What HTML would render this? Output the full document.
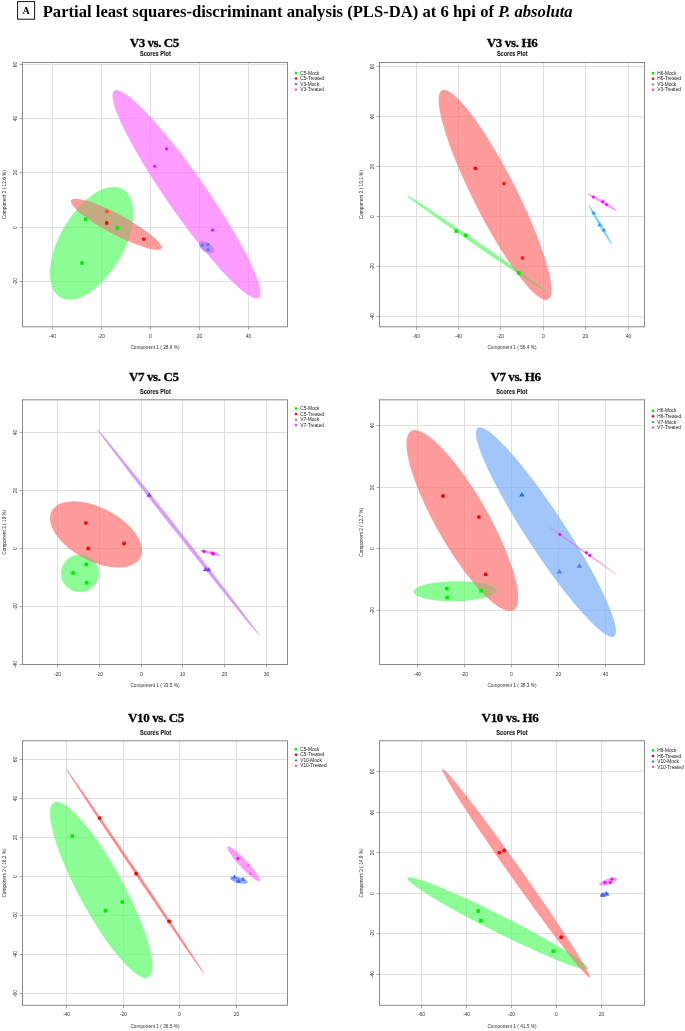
<!DOCTYPE html>
<html><head><meta charset="utf-8"><style>
html,body{margin:0;padding:0;background:#fff;}
body{width:685px;height:1031px;overflow:hidden;position:relative;}
svg{position:absolute;left:0;top:0;will-change:transform;}
.gv{stroke:#dfdfdf;stroke-width:1;}
.gh{stroke:#dfdfdf;stroke-width:1;}
.box{fill:none;stroke:#8a8a8a;stroke-width:1;}
.tk{stroke:#8a8a8a;stroke-width:0.8;}
.tl{font-family:"Liberation Sans",sans-serif;font-size:5px;fill:#333;text-anchor:middle;}
.al{font-family:"Liberation Sans",sans-serif;font-size:4.75px;fill:#333;text-anchor:middle;}
.lg{font-family:"Liberation Sans",sans-serif;font-size:4.8px;fill:#1a1a1a;}
.pt{font-family:"Liberation Serif",serif;font-weight:bold;font-size:13px;fill:#000;stroke:#000;stroke-width:0.3px;}
.st{font-family:"Liberation Sans",sans-serif;font-weight:bold;font-size:6.7px;fill:#222;stroke:#222;stroke-width:0.12px;}
.hd{font-family:"Liberation Serif",serif;font-weight:bold;font-size:16.2px;fill:#000;}
</style></head><body>
<svg width="685" height="1031" viewBox="0 0 685 1031">
<defs><clipPath id="c_g1"><ellipse cx="91.65" cy="243.35" rx="62.4" ry="32" transform="rotate(-60 91.65 243.35)"/></clipPath><clipPath id="c_r2"><ellipse cx="495" cy="194.95" rx="117.31" ry="21.6" transform="rotate(63.14 495 194.95)"/></clipPath><clipPath id="c_r3"><ellipse cx="96" cy="534.4" rx="50.1" ry="26.7" transform="rotate(27.8 96 534.4)"/></clipPath><clipPath id="c_r4"><ellipse cx="462.3" cy="520.6" rx="103.1" ry="26" transform="rotate(60.3 462.3 520.6)"/></clipPath><clipPath id="c_g6"><ellipse cx="497.8" cy="923.35" rx="101.27" ry="8.6" transform="rotate(26.67 497.8 923.35)"/></clipPath></defs>
<rect x="17.6" y="1.6" width="17" height="17.6" fill="none" stroke="#111" stroke-width="1"/>
<text x="26.1" y="14" style="font-family:'Liberation Serif',serif;font-weight:bold;font-size:10px;text-anchor:middle">A</text>
<text x="42.7" y="16.8" class="hd" textLength="530" lengthAdjust="spacingAndGlyphs">Partial least squares-discriminant analysis (PLS-DA) at 6 hpi of <tspan font-style="italic">P. absoluta</tspan></text>
<line x1="52.5" y1="62.5" x2="52.5" y2="326.8" class="gv"/>
<line x1="101.5" y1="62.5" x2="101.5" y2="326.8" class="gv"/>
<line x1="150.5" y1="62.5" x2="150.5" y2="326.8" class="gv"/>
<line x1="199.5" y1="62.5" x2="199.5" y2="326.8" class="gv"/>
<line x1="248.5" y1="62.5" x2="248.5" y2="326.8" class="gv"/>
<line x1="22.5" y1="64.5" x2="287.5" y2="64.5" class="gh"/>
<line x1="22.5" y1="118.5" x2="287.5" y2="118.5" class="gh"/>
<line x1="22.5" y1="172.5" x2="287.5" y2="172.5" class="gh"/>
<line x1="22.5" y1="227.5" x2="287.5" y2="227.5" class="gh"/>
<line x1="22.5" y1="281.5" x2="287.5" y2="281.5" class="gh"/>
<ellipse cx="91.65" cy="243.35" rx="62.4" ry="32" transform="rotate(-60 91.65 243.35)" fill="rgba(91,252,102,0.7)"/>
<ellipse cx="186.5" cy="194.3" rx="126.3" ry="19.6" transform="rotate(55.1 186.5 194.3)" fill="rgba(255,114,255,0.7)"/>
<ellipse cx="116.25" cy="224.3" rx="51.18" ry="9.9" transform="rotate(28.09 116.25 224.3)" fill="rgba(255,114,112,0.7)"/>
<ellipse cx="206.5" cy="247.3" rx="8.6" ry="4.6" transform="rotate(35 206.5 247.3)" fill="rgba(198,127,247,0.9)"/>
<g clip-path="url(#c_g1)"><ellipse cx="116.25" cy="224.3" rx="51.18" ry="9.9" transform="rotate(28.09 116.25 224.3)" fill="#c4aa82"/></g>
<rect x="83.9" y="217.5" width="3.6" height="3.6" fill="#00ee00"/>
<rect x="115.5" y="226.1" width="3.6" height="3.6" fill="#00ee00"/>
<rect x="80.2" y="261.2" width="3.6" height="3.6" fill="#00ee00"/>
<circle cx="106.7" cy="223" r="1.9" fill="#ff0000"/>
<circle cx="143.8" cy="239.1" r="1.9" fill="#ff0033"/>
<circle cx="106.9" cy="211.5" r="1.9" fill="#ff5511"/>
<path d="M166.6 147.1L168.5 149L166.6 150.9L164.7 149Z" fill="#ff00ff"/>
<path d="M154.6 164.4L156.5 166.3L154.6 168.2L152.7 166.3Z" fill="#ff00ff"/>
<path d="M212.4 228.3L214.3 230.2L212.4 232.1L210.5 230.2Z" fill="#ff00ff"/>
<path d="M202.3 242.84L204.5 246.44L200.1 246.44Z" fill="#4078ff"/>
<path d="M207.8 242.14L210 245.74L205.6 245.74Z" fill="#4078ff"/>
<path d="M208.1 247.24L210.3 250.84L205.9 250.84Z" fill="#4078ff"/>
<rect x="22.5" y="62.5" width="265" height="264.3" class="box"/>
<line x1="52.5" y1="326.8" x2="52.5" y2="329.6" class="tk"/>
<text x="52.5" y="337.8" class="tl">-40</text>
<line x1="101.5" y1="326.8" x2="101.5" y2="329.6" class="tk"/>
<text x="101.5" y="337.8" class="tl">-20</text>
<line x1="150.5" y1="326.8" x2="150.5" y2="329.6" class="tk"/>
<text x="150.5" y="337.8" class="tl">0</text>
<line x1="199.5" y1="326.8" x2="199.5" y2="329.6" class="tk"/>
<text x="199.5" y="337.8" class="tl">20</text>
<line x1="248.5" y1="326.8" x2="248.5" y2="329.6" class="tk"/>
<text x="248.5" y="337.8" class="tl">40</text>
<line x1="22.5" y1="64.5" x2="19.7" y2="64.5" class="tk"/>
<text x="0" y="0" class="tl" transform="translate(16.8 64.5) rotate(-90)">60</text>
<line x1="22.5" y1="118.5" x2="19.7" y2="118.5" class="tk"/>
<text x="0" y="0" class="tl" transform="translate(16.8 118.5) rotate(-90)">40</text>
<line x1="22.5" y1="172.5" x2="19.7" y2="172.5" class="tk"/>
<text x="0" y="0" class="tl" transform="translate(16.8 172.5) rotate(-90)">20</text>
<line x1="22.5" y1="227.5" x2="19.7" y2="227.5" class="tk"/>
<text x="0" y="0" class="tl" transform="translate(16.8 227.5) rotate(-90)">0</text>
<line x1="22.5" y1="281.5" x2="19.7" y2="281.5" class="tk"/>
<text x="0" y="0" class="tl" transform="translate(16.8 281.5) rotate(-90)">-20</text>
<text x="155" y="349.2" class="al">Component 1 ( 38.6 %)</text>
<text x="0" y="0" class="al" transform="translate(6.1 194.65) rotate(-90)">Component 2 ( 12.6 %)</text>
<text x="129.7" y="46.6" class="pt" textLength="49.6" lengthAdjust="spacing">V3 vs. C5</text>
<text x="139.9" y="55.8" class="st" textLength="30.9" lengthAdjust="spacingAndGlyphs">Scores Plot</text>
<rect x="294.78" y="71.68" width="2.45" height="2.45" fill="#00ee00"/>
<text x="300.2" y="74.5" class="lg">C5-Mock</text>
<circle cx="296" cy="78.45" r="1.29" fill="#ff0000"/>
<text x="300.2" y="80.05" class="lg">C5-Treated</text>
<path d="M296 82.53L297.5 84.98L294.5 84.98Z" fill="#2255ff"/>
<text x="300.2" y="85.6" class="lg">V3-Mock</text>
<path d="M296 88.26L297.29 89.55L296 90.84L294.71 89.55Z" fill="#ff00ff"/>
<text x="300.2" y="91.15" class="lg">V3-Treated</text>
<line x1="416.5" y1="62.5" x2="416.5" y2="326.8" class="gv"/>
<line x1="458.5" y1="62.5" x2="458.5" y2="326.8" class="gv"/>
<line x1="500.5" y1="62.5" x2="500.5" y2="326.8" class="gv"/>
<line x1="543.5" y1="62.5" x2="543.5" y2="326.8" class="gv"/>
<line x1="585.5" y1="62.5" x2="585.5" y2="326.8" class="gv"/>
<line x1="628.5" y1="62.5" x2="628.5" y2="326.8" class="gv"/>
<line x1="379.5" y1="66.5" x2="644.5" y2="66.5" class="gh"/>
<line x1="379.5" y1="116.5" x2="644.5" y2="116.5" class="gh"/>
<line x1="379.5" y1="166.5" x2="644.5" y2="166.5" class="gh"/>
<line x1="379.5" y1="216.5" x2="644.5" y2="216.5" class="gh"/>
<line x1="379.5" y1="266.5" x2="644.5" y2="266.5" class="gh"/>
<line x1="379.5" y1="316.5" x2="644.5" y2="316.5" class="gh"/>
<ellipse cx="495" cy="194.95" rx="117.31" ry="21.6" transform="rotate(63.14 495 194.95)" fill="rgba(255,114,112,0.7)"/>
<ellipse cx="476.5" cy="243.5" rx="84.41" ry="2" transform="rotate(34.57 476.5 243.5)" fill="rgba(91,252,102,0.7)"/>
<ellipse cx="602.2" cy="201.9" rx="16.94" ry="1.5" transform="rotate(30.5 602.2 201.9)" fill="rgba(255,114,255,0.7)"/>
<ellipse cx="600.05" cy="224.45" rx="23.38" ry="1.5" transform="rotate(59.54 600.05 224.45)" fill="rgba(95,199,255,0.7)"/>
<g clip-path="url(#c_r2)"><ellipse cx="476.5" cy="243.5" rx="84.41" ry="2" transform="rotate(34.57 476.5 243.5)" fill="#c4aa82"/></g>
<circle cx="475.4" cy="168.3" r="1.9" fill="#ff0000"/>
<circle cx="504" cy="183.5" r="1.9" fill="#ff2020"/>
<circle cx="522.6" cy="258" r="1.9" fill="#ff2020"/>
<rect x="454.5" y="229.3" width="3.6" height="3.6" fill="#00ee00"/>
<rect x="464.1" y="233.5" width="3.6" height="3.6" fill="#00ee00"/>
<rect x="517.1" y="271.2" width="3.6" height="3.6" fill="#00ee00"/>
<path d="M593.5 195.3L595.4 197.2L593.5 199.1L591.6 197.2Z" fill="#ff00ff"/>
<path d="M602.7 199.8L604.6 201.7L602.7 203.6L600.8 201.7Z" fill="#ff00ff"/>
<path d="M606.5 202.8L608.4 204.7L606.5 206.6L604.6 204.7Z" fill="#ff00ff"/>
<path d="M593.5 210.54L595.7 214.14L591.3 214.14Z" fill="#1e9cff"/>
<path d="M599.6 222.64L601.8 226.24L597.4 226.24Z" fill="#1e9cff"/>
<path d="M603.7 227.84L605.9 231.44L601.5 231.44Z" fill="#1e9cff"/>
<rect x="379.5" y="62.5" width="265" height="264.3" class="box"/>
<line x1="416.5" y1="326.8" x2="416.5" y2="329.6" class="tk"/>
<text x="416.5" y="337.8" class="tl">-60</text>
<line x1="458.5" y1="326.8" x2="458.5" y2="329.6" class="tk"/>
<text x="458.5" y="337.8" class="tl">-40</text>
<line x1="500.5" y1="326.8" x2="500.5" y2="329.6" class="tk"/>
<text x="500.5" y="337.8" class="tl">-20</text>
<line x1="543.5" y1="326.8" x2="543.5" y2="329.6" class="tk"/>
<text x="543.5" y="337.8" class="tl">0</text>
<line x1="585.5" y1="326.8" x2="585.5" y2="329.6" class="tk"/>
<text x="585.5" y="337.8" class="tl">20</text>
<line x1="628.5" y1="326.8" x2="628.5" y2="329.6" class="tk"/>
<text x="628.5" y="337.8" class="tl">40</text>
<line x1="379.5" y1="66.5" x2="376.7" y2="66.5" class="tk"/>
<text x="0" y="0" class="tl" transform="translate(373.8 66.5) rotate(-90)">60</text>
<line x1="379.5" y1="116.5" x2="376.7" y2="116.5" class="tk"/>
<text x="0" y="0" class="tl" transform="translate(373.8 116.5) rotate(-90)">40</text>
<line x1="379.5" y1="166.5" x2="376.7" y2="166.5" class="tk"/>
<text x="0" y="0" class="tl" transform="translate(373.8 166.5) rotate(-90)">20</text>
<line x1="379.5" y1="216.5" x2="376.7" y2="216.5" class="tk"/>
<text x="0" y="0" class="tl" transform="translate(373.8 216.5) rotate(-90)">0</text>
<line x1="379.5" y1="266.5" x2="376.7" y2="266.5" class="tk"/>
<text x="0" y="0" class="tl" transform="translate(373.8 266.5) rotate(-90)">-20</text>
<line x1="379.5" y1="316.5" x2="376.7" y2="316.5" class="tk"/>
<text x="0" y="0" class="tl" transform="translate(373.8 316.5) rotate(-90)">-40</text>
<text x="512" y="349.2" class="al">Component 1 ( 56.4 %)</text>
<text x="0" y="0" class="al" transform="translate(363.1 194.65) rotate(-90)">Component 2 ( 10.1 %)</text>
<text x="486.7" y="46.7" class="pt" textLength="51" lengthAdjust="spacing">V3 vs. H6</text>
<text x="496.9" y="55.9" class="st" textLength="30.6" lengthAdjust="spacingAndGlyphs">Scores Plot</text>
<rect x="651.78" y="71.98" width="2.45" height="2.45" fill="#00ee00"/>
<text x="657.2" y="74.8" class="lg">H6-Mock</text>
<circle cx="653" cy="78.75" r="1.29" fill="#ff0000"/>
<text x="657.2" y="80.35" class="lg">H6-Treated</text>
<path d="M653 82.83L654.5 85.28L651.5 85.28Z" fill="#1e90ff"/>
<text x="657.2" y="85.9" class="lg">V3-Mock</text>
<path d="M653 88.56L654.29 89.85L653 91.14L651.71 89.85Z" fill="#ff00ff"/>
<text x="657.2" y="91.45" class="lg">V3-Treated</text>
<line x1="57.5" y1="399.8" x2="57.5" y2="664.5" class="gv"/>
<line x1="99.5" y1="399.8" x2="99.5" y2="664.5" class="gv"/>
<line x1="141.5" y1="399.8" x2="141.5" y2="664.5" class="gv"/>
<line x1="182.5" y1="399.8" x2="182.5" y2="664.5" class="gv"/>
<line x1="224.5" y1="399.8" x2="224.5" y2="664.5" class="gv"/>
<line x1="266.5" y1="399.8" x2="266.5" y2="664.5" class="gv"/>
<line x1="22.5" y1="432.5" x2="287.5" y2="432.5" class="gh"/>
<line x1="22.5" y1="490.5" x2="287.5" y2="490.5" class="gh"/>
<line x1="22.5" y1="548.5" x2="287.5" y2="548.5" class="gh"/>
<line x1="22.5" y1="606.5" x2="287.5" y2="606.5" class="gh"/>
<line x1="22.5" y1="664.5" x2="287.5" y2="664.5" class="gh"/>
<ellipse cx="96" cy="534.4" rx="50.1" ry="26.7" transform="rotate(27.8 96 534.4)" fill="rgba(255,114,112,0.7)"/>
<ellipse cx="79.9" cy="573.4" rx="19" ry="18.7" transform="rotate(0 79.9 573.4)" fill="rgba(91,252,102,0.7)"/>
<ellipse cx="178.05" cy="531.95" rx="131.74" ry="1.9" transform="rotate(51.81 178.05 531.95)" fill="rgba(194,119,248,0.7)"/>
<ellipse cx="210.45" cy="552.9" rx="10.87" ry="1.5" transform="rotate(13.84 210.45 552.9)" fill="rgba(255,114,255,0.7)"/>
<g clip-path="url(#c_r3)"><ellipse cx="79.9" cy="573.4" rx="19" ry="18.7" transform="rotate(0 79.9 573.4)" fill="#c4aa82"/></g>
<circle cx="85.9" cy="522.9" r="1.9" fill="#ff0000"/>
<circle cx="88.2" cy="548.5" r="1.9" fill="#ff0000"/>
<circle cx="124.1" cy="543.5" r="1.9" fill="#ff0000"/>
<rect x="84.5" y="562.6" width="3.6" height="3.6" fill="#00ee00"/>
<rect x="71.3" y="571.2" width="3.6" height="3.6" fill="#00ee00"/>
<rect x="84.9" y="581" width="3.6" height="3.6" fill="#00ee00"/>
<path d="M149.1 492.2L151.85 496.7L146.35 496.7Z" fill="#8a40f0"/>
<path d="M205.6 566.71L208.24 571.03L202.96 571.03Z" fill="#8a40f0"/>
<path d="M208.6 567.01L211.24 571.33L205.96 571.33Z" fill="#8a40f0"/>
<path d="M203.9 549.31L205.99 551.4L203.9 553.49L201.81 551.4Z" fill="#ff00ff"/>
<path d="M212.4 551.01L214.49 553.1L212.4 555.19L210.31 553.1Z" fill="#ff00ff"/>
<path d="M213.1 551.71L215.19 553.8L213.1 555.89L211.01 553.8Z" fill="#ff00ff"/>
<rect x="22.5" y="399.8" width="265" height="264.7" class="box"/>
<line x1="57.5" y1="664.5" x2="57.5" y2="667.3" class="tk"/>
<text x="57.5" y="675.5" class="tl">-20</text>
<line x1="99.5" y1="664.5" x2="99.5" y2="667.3" class="tk"/>
<text x="99.5" y="675.5" class="tl">-10</text>
<line x1="141.5" y1="664.5" x2="141.5" y2="667.3" class="tk"/>
<text x="141.5" y="675.5" class="tl">0</text>
<line x1="182.5" y1="664.5" x2="182.5" y2="667.3" class="tk"/>
<text x="182.5" y="675.5" class="tl">10</text>
<line x1="224.5" y1="664.5" x2="224.5" y2="667.3" class="tk"/>
<text x="224.5" y="675.5" class="tl">20</text>
<line x1="266.5" y1="664.5" x2="266.5" y2="667.3" class="tk"/>
<text x="266.5" y="675.5" class="tl">30</text>
<line x1="22.5" y1="432.5" x2="19.7" y2="432.5" class="tk"/>
<text x="0" y="0" class="tl" transform="translate(16.8 432.5) rotate(-90)">40</text>
<line x1="22.5" y1="490.5" x2="19.7" y2="490.5" class="tk"/>
<text x="0" y="0" class="tl" transform="translate(16.8 490.5) rotate(-90)">20</text>
<line x1="22.5" y1="548.5" x2="19.7" y2="548.5" class="tk"/>
<text x="0" y="0" class="tl" transform="translate(16.8 548.5) rotate(-90)">0</text>
<line x1="22.5" y1="606.5" x2="19.7" y2="606.5" class="tk"/>
<text x="0" y="0" class="tl" transform="translate(16.8 606.5) rotate(-90)">-20</text>
<line x1="22.5" y1="664.5" x2="19.7" y2="664.5" class="tk"/>
<text x="0" y="0" class="tl" transform="translate(16.8 664.5) rotate(-90)">-40</text>
<text x="155" y="686.9" class="al">Component 1 ( 33.5 %)</text>
<text x="0" y="0" class="al" transform="translate(6.1 532.15) rotate(-90)">Component 2 ( 19 %)</text>
<text x="129.05" y="380.5" class="pt" textLength="49.95" lengthAdjust="spacing">V7 vs. C5</text>
<text x="140" y="393.6" class="st" textLength="30.8" lengthAdjust="spacingAndGlyphs">Scores Plot</text>
<rect x="294.78" y="407.28" width="2.45" height="2.45" fill="#00ee00"/>
<text x="300.2" y="410.1" class="lg">C5-Mock</text>
<circle cx="296" cy="414.05" r="1.29" fill="#ff0000"/>
<text x="300.2" y="415.65" class="lg">C5-Treated</text>
<path d="M296 418.13L297.5 420.58L294.5 420.58Z" fill="#9030f0"/>
<text x="300.2" y="421.2" class="lg">V7-Mock</text>
<path d="M296 423.86L297.29 425.15L296 426.44L294.71 425.15Z" fill="#ff00ff"/>
<text x="300.2" y="426.75" class="lg">V7-Treated</text>
<line x1="417.5" y1="399.8" x2="417.5" y2="664.5" class="gv"/>
<line x1="464.5" y1="399.8" x2="464.5" y2="664.5" class="gv"/>
<line x1="511.5" y1="399.8" x2="511.5" y2="664.5" class="gv"/>
<line x1="558.5" y1="399.8" x2="558.5" y2="664.5" class="gv"/>
<line x1="605.5" y1="399.8" x2="605.5" y2="664.5" class="gv"/>
<line x1="379.5" y1="425.5" x2="644.5" y2="425.5" class="gh"/>
<line x1="379.5" y1="487.5" x2="644.5" y2="487.5" class="gh"/>
<line x1="379.5" y1="548.5" x2="644.5" y2="548.5" class="gh"/>
<line x1="379.5" y1="610.5" x2="644.5" y2="610.5" class="gh"/>
<ellipse cx="462.3" cy="520.6" rx="103.1" ry="26" transform="rotate(60.3 462.3 520.6)" fill="rgba(255,114,112,0.7)"/>
<ellipse cx="545.95" cy="532.05" rx="124.66" ry="19.3" transform="rotate(56.84 545.95 532.05)" fill="rgba(119,174,248,0.7)"/>
<ellipse cx="455" cy="591.2" rx="41.6" ry="10" transform="rotate(-0.8 455 591.2)" fill="rgba(91,252,102,0.7)"/>
<ellipse cx="581.9" cy="550.1" rx="42.56" ry="0.5" transform="rotate(35.15 581.9 550.1)" fill="rgba(238,96,238,0.9)"/>
<g clip-path="url(#c_r4)"><ellipse cx="455" cy="591.2" rx="41.6" ry="10" transform="rotate(-0.8 455 591.2)" fill="#c4aa82"/></g>
<circle cx="442.9" cy="496" r="1.9" fill="#ff0000"/>
<circle cx="478.9" cy="516.9" r="1.9" fill="#ff0000"/>
<circle cx="485.6" cy="574.3" r="1.9" fill="#ff0000"/>
<rect x="445" y="586.8" width="3.6" height="3.6" fill="#00ee00"/>
<rect x="445.4" y="595.6" width="3.6" height="3.6" fill="#00ee00"/>
<rect x="479.4" y="588.9" width="3.6" height="3.6" fill="#00ee00"/>
<path d="M521.9 492L524.65 496.5L519.15 496.5Z" fill="#1a70f0"/>
<path d="M559.5 569.1L562.25 573.6L556.75 573.6Z" fill="#5080f0"/>
<path d="M579.3 563.3L582.05 567.8L576.55 567.8Z" fill="#5080f0"/>
<path d="M559.9 532.6L561.8 534.5L559.9 536.4L558 534.5Z" fill="#ff00ff"/>
<path d="M586.3 550.8L588.2 552.7L586.3 554.6L584.4 552.7Z" fill="#ff00ff"/>
<path d="M589.8 553.6L591.7 555.5L589.8 557.4L587.9 555.5Z" fill="#ff00ff"/>
<rect x="379.5" y="399.8" width="265" height="264.7" class="box"/>
<line x1="417.5" y1="664.5" x2="417.5" y2="667.3" class="tk"/>
<text x="417.5" y="675.5" class="tl">-40</text>
<line x1="464.5" y1="664.5" x2="464.5" y2="667.3" class="tk"/>
<text x="464.5" y="675.5" class="tl">-20</text>
<line x1="511.5" y1="664.5" x2="511.5" y2="667.3" class="tk"/>
<text x="511.5" y="675.5" class="tl">0</text>
<line x1="558.5" y1="664.5" x2="558.5" y2="667.3" class="tk"/>
<text x="558.5" y="675.5" class="tl">20</text>
<line x1="605.5" y1="664.5" x2="605.5" y2="667.3" class="tk"/>
<text x="605.5" y="675.5" class="tl">40</text>
<line x1="379.5" y1="425.5" x2="376.7" y2="425.5" class="tk"/>
<text x="0" y="0" class="tl" transform="translate(373.8 425.5) rotate(-90)">40</text>
<line x1="379.5" y1="487.5" x2="376.7" y2="487.5" class="tk"/>
<text x="0" y="0" class="tl" transform="translate(373.8 487.5) rotate(-90)">20</text>
<line x1="379.5" y1="548.5" x2="376.7" y2="548.5" class="tk"/>
<text x="0" y="0" class="tl" transform="translate(373.8 548.5) rotate(-90)">0</text>
<line x1="379.5" y1="610.5" x2="376.7" y2="610.5" class="tk"/>
<text x="0" y="0" class="tl" transform="translate(373.8 610.5) rotate(-90)">-20</text>
<text x="512" y="686.9" class="al">Component 1 ( 38.3 %)</text>
<text x="0" y="0" class="al" transform="translate(363.1 532.15) rotate(-90)">Component 2 ( 12.7 %)</text>
<text x="490.4" y="380.5" class="pt" textLength="50.6" lengthAdjust="spacing">V7 vs. H6</text>
<text x="496.3" y="393.6" class="st" textLength="31.1" lengthAdjust="spacingAndGlyphs">Scores Plot</text>
<rect x="651.78" y="409.58" width="2.45" height="2.45" fill="#00ee00"/>
<text x="657.2" y="412.4" class="lg">H6-Mock</text>
<circle cx="653" cy="416.35" r="1.29" fill="#ff0000"/>
<text x="657.2" y="417.95" class="lg">H6-Treated</text>
<path d="M653 420.43L654.5 422.88L651.5 422.88Z" fill="#2a7af0"/>
<text x="657.2" y="423.5" class="lg">V7-Mock</text>
<path d="M653 426.16L654.29 427.45L653 428.74L651.71 427.45Z" fill="#ff00ff"/>
<text x="657.2" y="429.05" class="lg">V7-Treated</text>
<line x1="66.5" y1="740.8" x2="66.5" y2="1005.3" class="gv"/>
<line x1="123.5" y1="740.8" x2="123.5" y2="1005.3" class="gv"/>
<line x1="179.5" y1="740.8" x2="179.5" y2="1005.3" class="gv"/>
<line x1="236.5" y1="740.8" x2="236.5" y2="1005.3" class="gv"/>
<line x1="22.5" y1="759.5" x2="287.5" y2="759.5" class="gh"/>
<line x1="22.5" y1="798.5" x2="287.5" y2="798.5" class="gh"/>
<line x1="22.5" y1="837.5" x2="287.5" y2="837.5" class="gh"/>
<line x1="22.5" y1="876.5" x2="287.5" y2="876.5" class="gh"/>
<line x1="22.5" y1="915.5" x2="287.5" y2="915.5" class="gh"/>
<line x1="22.5" y1="954.5" x2="287.5" y2="954.5" class="gh"/>
<line x1="22.5" y1="993.5" x2="287.5" y2="993.5" class="gh"/>
<ellipse cx="101.3" cy="889.85" rx="99.5" ry="22.4" transform="rotate(61.57 101.3 889.85)" fill="rgba(91,252,102,0.7)"/>
<ellipse cx="135.15" cy="871.35" rx="123.99" ry="1.5" transform="rotate(56.05 135.15 871.35)" fill="rgba(255,91,91,0.7)"/>
<ellipse cx="243.7" cy="863.9" rx="23.42" ry="4" transform="rotate(46.9 243.7 863.9)" fill="rgba(255,114,255,0.7)"/>
<ellipse cx="238.75" cy="880.1" rx="9.24" ry="3" transform="rotate(14.41 238.75 880.1)" fill="rgba(108,131,255,0.7)"/>
<circle cx="99.6" cy="818.1" r="1.9" fill="#ff0000"/>
<circle cx="136.1" cy="873.7" r="1.9" fill="#ff0000"/>
<circle cx="169.1" cy="921.3" r="1.9" fill="#ff0000"/>
<rect x="70.5" y="834.2" width="3.6" height="3.6" fill="#00ee00"/>
<rect x="120.6" y="900.2" width="3.6" height="3.6" fill="#00ee00"/>
<rect x="103.7" y="908.9" width="3.6" height="3.6" fill="#00ee00"/>
<path d="M237.8 856.6L239.7 858.5L237.8 860.4L235.9 858.5Z" fill="#ff00ff"/>
<path d="M248.3 863.8L250.2 865.7L248.3 867.6L246.4 865.7Z" fill="#ff66ff"/>
<path d="M250.5 871.6L252.4 873.5L250.5 875.4L248.6 873.5Z" fill="#ff66ff"/>
<path d="M234.4 874.52L236.93 878.66L231.87 878.66Z" fill="#5070ff"/>
<path d="M238.5 878.52L241.03 882.66L235.97 882.66Z" fill="#3060ff"/>
<path d="M243 876.72L245.53 880.86L240.47 880.86Z" fill="#5070ff"/>
<rect x="22.5" y="740.8" width="265" height="264.5" class="box"/>
<line x1="66.5" y1="1005.3" x2="66.5" y2="1008.1" class="tk"/>
<text x="66.5" y="1016.3" class="tl">-40</text>
<line x1="123.5" y1="1005.3" x2="123.5" y2="1008.1" class="tk"/>
<text x="123.5" y="1016.3" class="tl">-20</text>
<line x1="179.5" y1="1005.3" x2="179.5" y2="1008.1" class="tk"/>
<text x="179.5" y="1016.3" class="tl">0</text>
<line x1="236.5" y1="1005.3" x2="236.5" y2="1008.1" class="tk"/>
<text x="236.5" y="1016.3" class="tl">20</text>
<line x1="22.5" y1="759.5" x2="19.7" y2="759.5" class="tk"/>
<text x="0" y="0" class="tl" transform="translate(16.8 759.5) rotate(-90)">60</text>
<line x1="22.5" y1="798.5" x2="19.7" y2="798.5" class="tk"/>
<text x="0" y="0" class="tl" transform="translate(16.8 798.5) rotate(-90)">40</text>
<line x1="22.5" y1="837.5" x2="19.7" y2="837.5" class="tk"/>
<text x="0" y="0" class="tl" transform="translate(16.8 837.5) rotate(-90)">20</text>
<line x1="22.5" y1="876.5" x2="19.7" y2="876.5" class="tk"/>
<text x="0" y="0" class="tl" transform="translate(16.8 876.5) rotate(-90)">0</text>
<line x1="22.5" y1="915.5" x2="19.7" y2="915.5" class="tk"/>
<text x="0" y="0" class="tl" transform="translate(16.8 915.5) rotate(-90)">-20</text>
<line x1="22.5" y1="954.5" x2="19.7" y2="954.5" class="tk"/>
<text x="0" y="0" class="tl" transform="translate(16.8 954.5) rotate(-90)">-40</text>
<line x1="22.5" y1="993.5" x2="19.7" y2="993.5" class="tk"/>
<text x="0" y="0" class="tl" transform="translate(16.8 993.5) rotate(-90)">-60</text>
<text x="155" y="1027.7" class="al">Component 1 ( 36.5 %)</text>
<text x="0" y="0" class="al" transform="translate(6.1 873.05) rotate(-90)">Component 2 ( 16.2 %)</text>
<text x="128.1" y="721.7" class="pt" textLength="56.1" lengthAdjust="spacing">V10 vs. C5</text>
<text x="140" y="734.6" class="st" textLength="31.1" lengthAdjust="spacingAndGlyphs">Scores Plot</text>
<rect x="294.78" y="747.98" width="2.45" height="2.45" fill="#00ee00"/>
<text x="300.2" y="750.8" class="lg">C5-Mock</text>
<circle cx="296" cy="754.75" r="1.29" fill="#ff0000"/>
<text x="300.2" y="756.35" class="lg">C5-Treated</text>
<path d="M296 758.83L297.5 761.28L294.5 761.28Z" fill="#3050ff"/>
<text x="300.2" y="761.9" class="lg">V10-Mock</text>
<path d="M296 764.56L297.29 765.85L296 767.14L294.71 765.85Z" fill="#ff00ff"/>
<text x="300.2" y="767.45" class="lg">V10-Treated</text>
<line x1="421.5" y1="740.8" x2="421.5" y2="1005.3" class="gv"/>
<line x1="466.5" y1="740.8" x2="466.5" y2="1005.3" class="gv"/>
<line x1="511.5" y1="740.8" x2="511.5" y2="1005.3" class="gv"/>
<line x1="556.5" y1="740.8" x2="556.5" y2="1005.3" class="gv"/>
<line x1="601.5" y1="740.8" x2="601.5" y2="1005.3" class="gv"/>
<line x1="379.5" y1="771.5" x2="644.5" y2="771.5" class="gh"/>
<line x1="379.5" y1="812.5" x2="644.5" y2="812.5" class="gh"/>
<line x1="379.5" y1="852.5" x2="644.5" y2="852.5" class="gh"/>
<line x1="379.5" y1="893.5" x2="644.5" y2="893.5" class="gh"/>
<line x1="379.5" y1="933.5" x2="644.5" y2="933.5" class="gh"/>
<line x1="379.5" y1="974.5" x2="644.5" y2="974.5" class="gh"/>
<ellipse cx="497.8" cy="923.35" rx="101.27" ry="8.6" transform="rotate(26.67 497.8 923.35)" fill="rgba(91,252,102,0.7)"/>
<ellipse cx="516.05" cy="873.15" rx="127.78" ry="5.9" transform="rotate(54.75 516.05 873.15)" fill="rgba(255,114,112,0.7)"/>
<ellipse cx="608.02" cy="881.67" rx="9.52" ry="2.9" transform="rotate(-19.48 608.02 881.67)" fill="rgba(255,114,255,0.7)"/>
<ellipse cx="604.5" cy="894.6" rx="4.6" ry="2.2" transform="rotate(-12 604.5 894.6)" fill="rgba(111,131,255,0.7)"/>
<g clip-path="url(#c_g6)"><ellipse cx="516.05" cy="873.15" rx="127.78" ry="5.9" transform="rotate(54.75 516.05 873.15)" fill="#c4aa82"/></g>
<circle cx="499.3" cy="852.6" r="1.9" fill="#ff0000"/>
<circle cx="504.2" cy="850.5" r="1.9" fill="#ff0000"/>
<circle cx="561.2" cy="937.2" r="1.9" fill="#ff0000"/>
<rect x="476.4" y="909.2" width="3.6" height="3.6" fill="#00ee00"/>
<rect x="479.1" y="918.8" width="3.6" height="3.6" fill="#00ee00"/>
<rect x="551.5" y="949.4" width="3.6" height="3.6" fill="#00ee00"/>
<path d="M604.9 880.6L606.8 882.5L604.9 884.4L603 882.5Z" fill="#ff00ff"/>
<path d="M610.4 880.5L612.3 882.4L610.4 884.3L608.5 882.4Z" fill="#ff00ff"/>
<path d="M611.9 877.2L613.8 879.1L611.9 881L610 879.1Z" fill="#ff00ff"/>
<path d="M602.6 892.31L605.24 896.63L599.96 896.63Z" fill="#4060ff"/>
<path d="M606.4 891.11L609.04 895.43L603.76 895.43Z" fill="#4060ff"/>
<rect x="379.5" y="740.8" width="265" height="264.5" class="box"/>
<line x1="421.5" y1="1005.3" x2="421.5" y2="1008.1" class="tk"/>
<text x="421.5" y="1016.3" class="tl">-60</text>
<line x1="466.5" y1="1005.3" x2="466.5" y2="1008.1" class="tk"/>
<text x="466.5" y="1016.3" class="tl">-40</text>
<line x1="511.5" y1="1005.3" x2="511.5" y2="1008.1" class="tk"/>
<text x="511.5" y="1016.3" class="tl">-20</text>
<line x1="556.5" y1="1005.3" x2="556.5" y2="1008.1" class="tk"/>
<text x="556.5" y="1016.3" class="tl">0</text>
<line x1="601.5" y1="1005.3" x2="601.5" y2="1008.1" class="tk"/>
<text x="601.5" y="1016.3" class="tl">20</text>
<line x1="379.5" y1="771.5" x2="376.7" y2="771.5" class="tk"/>
<text x="0" y="0" class="tl" transform="translate(373.8 771.5) rotate(-90)">60</text>
<line x1="379.5" y1="812.5" x2="376.7" y2="812.5" class="tk"/>
<text x="0" y="0" class="tl" transform="translate(373.8 812.5) rotate(-90)">40</text>
<line x1="379.5" y1="852.5" x2="376.7" y2="852.5" class="tk"/>
<text x="0" y="0" class="tl" transform="translate(373.8 852.5) rotate(-90)">20</text>
<line x1="379.5" y1="893.5" x2="376.7" y2="893.5" class="tk"/>
<text x="0" y="0" class="tl" transform="translate(373.8 893.5) rotate(-90)">0</text>
<line x1="379.5" y1="933.5" x2="376.7" y2="933.5" class="tk"/>
<text x="0" y="0" class="tl" transform="translate(373.8 933.5) rotate(-90)">-20</text>
<line x1="379.5" y1="974.5" x2="376.7" y2="974.5" class="tk"/>
<text x="0" y="0" class="tl" transform="translate(373.8 974.5) rotate(-90)">-40</text>
<text x="512" y="1027.7" class="al">Component 1 ( 41.5 %)</text>
<text x="0" y="0" class="al" transform="translate(363.1 873.05) rotate(-90)">Component 2 ( 14.9 %)</text>
<text x="481.6" y="721.8" class="pt" textLength="57.2" lengthAdjust="spacing">V10 vs. H6</text>
<text x="496.2" y="734.8" class="st" textLength="31.4" lengthAdjust="spacingAndGlyphs">Scores Plot</text>
<rect x="651.78" y="749.18" width="2.45" height="2.45" fill="#00ee00"/>
<text x="657.2" y="752" class="lg">H6-Mock</text>
<circle cx="653" cy="755.95" r="1.29" fill="#ff0000"/>
<text x="657.2" y="757.55" class="lg">H6-Treated</text>
<path d="M653 760.03L654.5 762.48L651.5 762.48Z" fill="#3050ff"/>
<text x="657.2" y="763.1" class="lg">V10-Mock</text>
<path d="M653 765.76L654.29 767.05L653 768.34L651.71 767.05Z" fill="#ff00ff"/>
<text x="657.2" y="768.65" class="lg">V10-Treated</text>
</svg>
</body></html>
